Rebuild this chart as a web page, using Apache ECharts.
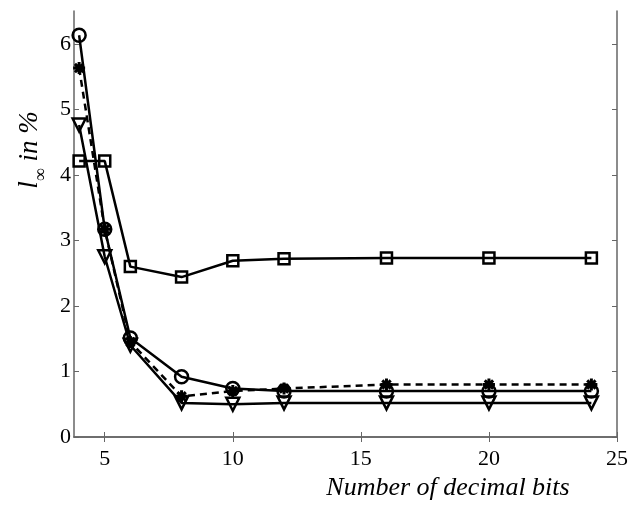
<!DOCTYPE html>
<html>
<head>
<meta charset="utf-8">
<script src="https://cdn.jsdelivr.net/npm/echarts@6/dist/echarts.min.js"></script>
<style>
  html, body { margin: 0; padding: 0; background: #fff; }
  #chart { width: 637px; height: 507px; }
</style>
</head>
<body>
<div id="chart"></div>
<script>
// decimal bits on the x axis
const bits = [4, 5, 6, 8, 10, 12, 16, 20, 24];

// l_inf error (%) per curve
const circleVals   = [6.13, 3.17, 1.51, 0.92, 0.74, 0.70, 0.70, 0.70, 0.70];
const starVals     = [5.63, 3.17, 1.45, 0.62, 0.70, 0.74, 0.80, 0.80, 0.80];
const triangleVals = [4.76, 2.75, 1.40, 0.52, 0.50, 0.52, 0.52, 0.52, 0.52];
const squareVals   = [4.21, 4.21, 2.60, 2.44, 2.69, 2.72, 2.73, 2.73, 2.73];

const xTicks = [5, 10, 15, 20, 25];
const yTicks = [0, 1, 2, 3, 4, 5, 6];

const serif = '"Liberation Serif", "DejaVu Serif", serif';
const frame = '#666';

function pairs(vals) {
  return bits.map((b, i) => [b, vals[i]]);
}

// asterisk drawn as strokes
const asterisk = 'path://M0,5L10,5M5,0L5,10M1.5,1.5L8.5,8.5M8.5,1.5L1.5,8.5';

function curve(name, vals, symbol, size, dashed, extra) {
  return Object.assign({
    name: name,
    type: 'line',
    data: pairs(vals),
    symbol: symbol,
    symbolSize: size,
    showAllSymbol: true,
    lineStyle: { color: '#000', width: 2.5, type: dashed ? [7, 5] : 'solid' },
    itemStyle: { color: 'rgba(0,0,0,0)', borderColor: '#000', borderWidth: 2.5 },
    emphasis: { disabled: true },
    animation: false
  }, extra || {});
}

const chart = echarts.init(document.getElementById('chart'), null, { renderer: 'canvas' });

chart.setOption({
  backgroundColor: '#fff',
  animation: false,
  grid: { left: 74, right: 20, top: 11, bottom: 70, containLabel: false },
  xAxis: [
    {
      type: 'value', min: 3.8, max: 25,
      axisLine: { show: true, lineStyle: { color: frame, width: 1.5 } },
      axisTick: { show: true, inside: true, length: 5, customValues: xTicks, lineStyle: { color: frame } },
      axisLabel: { customValues: xTicks, color: '#000', fontFamily: serif, fontSize: 22, margin: 11 },
      splitLine: { show: false },
      name: 'Number of decimal bits',
      nameLocation: 'end',
      nameGap: -169,
      nameTextStyle: {
        align: 'center', verticalAlign: 'top', padding: [38, 0, 0, 0],
        color: '#000', fontFamily: serif, fontStyle: 'italic', fontSize: 26
      }
    },
    {
      type: 'value', position: 'top', min: 3.8, max: 25,
      axisLine: { show: true, lineStyle: { color: frame, width: 1.5 } },
      axisTick: { show: true, inside: true, length: 5, customValues: xTicks, lineStyle: { color: frame } },
      axisLabel: { show: false },
      splitLine: { show: false }
    }
  ],
  yAxis: [
    {
      type: 'value', min: 0, max: 6.5,
      axisLine: { show: true, lineStyle: { color: frame, width: 1.5 } },
      axisTick: { show: true, inside: true, length: 5, customValues: yTicks, lineStyle: { color: frame } },
      axisLabel: { customValues: yTicks, color: '#000', fontFamily: serif, fontSize: 22, margin: 3 },
      splitLine: { show: false }
    },
    {
      type: 'value', position: 'right', min: 0, max: 6.5,
      axisLine: { show: true, lineStyle: { color: frame, width: 1.5 } },
      axisTick: { show: true, inside: true, length: 5, customValues: yTicks, lineStyle: { color: frame } },
      axisLabel: { show: false },
      splitLine: { show: false }
    }
  ],
  graphic: [
    {
      type: 'text',
      x: 30, y: 150,
      rotation: Math.PI / 2,
      style: {
        text: '{a|l}{b|∞}{a| in %}',
        align: 'center',
        verticalAlign: 'middle',
        rich: {
          a: { fontFamily: serif, fontStyle: 'italic', fontSize: 27, lineHeight: 40, fill: '#000', verticalAlign: 'middle' },
          b: { fontFamily: serif, fontSize: 18, lineHeight: 40, fill: '#000', verticalAlign: 'bottom' }
        }
      }
    }
  ],
  series: [
    curve('square', squareVals, 'rect', 11, false),
    curve('triangle', triangleVals, 'triangle', 13, false, { symbolRotate: 180 }),
    curve('star', starVals, asterisk, 12, true, { itemStyle: { color: 'rgba(0,0,0,0)', borderColor: '#000', borderWidth: 3 } }),
    curve('circle', circleVals, 'circle', 13, false)
  ]
});
</script>
</body>
</html>
